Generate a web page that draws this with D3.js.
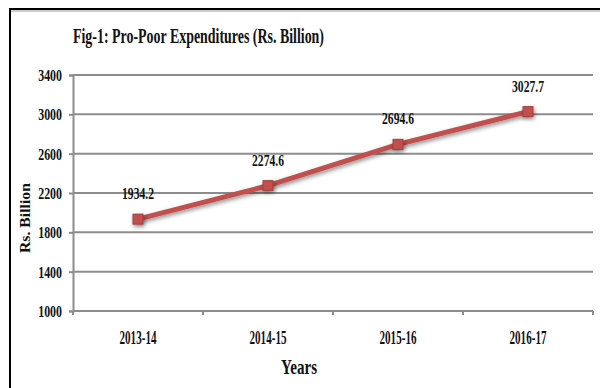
<!DOCTYPE html>
<html>
<head>
<meta charset="utf-8">
<script src="https://cdn.jsdelivr.net/npm/d3@7"></script>
<style>
  html, body { margin: 0; padding: 0; background: #fff; }
  svg { display: block; }
  text { font-family: "Liberation Serif", "Times New Roman", serif; font-weight: bold; fill: #111; }
</style>
</head>
<body>
<svg id="chart" width="600" height="388"></svg>
<script>
// Pro-poor expenditure by fiscal year (Rs. Billion)
const years = ["2013-14", "2014-15", "2015-16", "2016-17"];
const expenditure = [1934.2, 2274.6, 2694.6, 3027.7];
const yTicks = [1000, 1400, 1800, 2200, 2600, 3000, 3400];
const titleText = "Fig-1: Pro-Poor Expenditures (Rs. Billion)";
const xTitle = "Years";
const yTitle = "Rs. Billion";

const W = 600, H = 388;
const margin = { left: 73, right: 7, top: 75, bottom: 77 };
const svg = d3.select("#chart");

// squeeze text horizontally to a narrow, condensed look
function condense(sel, k) {
  sel.each(function () {
    const w = this.getComputedTextLength();
    d3.select(this).attr("textLength", w * k).attr("lengthAdjust", "spacingAndGlyphs");
  });
}
function fitTo(sel, width) {
  sel.attr("textLength", width).attr("lengthAdjust", "spacingAndGlyphs");
}

const defs = svg.append("defs");
const f = defs.append("filter").attr("id", "shadow")
  .attr("x", "-50%").attr("y", "-50%").attr("width", "200%").attr("height", "200%");
f.append("feDropShadow").attr("dx", 1).attr("dy", 2).attr("stdDeviation", 2)
  .attr("flood-color", "#000").attr("flood-opacity", 0.45);

// outer frame
svg.append("rect").attr("x", 10).attr("y", 9).attr("width", W + 20).attr("height", H + 20)
  .attr("fill", "none").attr("stroke", "#000").attr("stroke-width", 2);
svg.append("line").attr("x1", 11).attr("x2", W).attr("y1", 11).attr("y2", 11)
  .attr("stroke", "#999").attr("stroke-width", 1);

const x = d3.scaleBand().domain(years).range([margin.left, W - margin.right]);
const y = d3.scaleLinear().domain([1000, 3400]).range([H - margin.bottom, margin.top]);

const gridColor = "#8c8c8c";

// horizontal gridlines
svg.append("g").selectAll("line").data(yTicks.slice(1)).join("line")
  .attr("x1", margin.left).attr("x2", W - margin.right)
  .attr("y1", d => y(d)).attr("y2", d => y(d))
  .attr("stroke", gridColor).attr("stroke-width", 2);

// y axis
const yAxis = svg.append("g").attr("transform", `translate(${margin.left},0)`)
  .call(d3.axisLeft(y).tickValues(yTicks).tickSize(4).tickPadding(7).tickFormat(d3.format("d")));
yAxis.select(".domain").attr("stroke", gridColor).attr("stroke-width", 2);
yAxis.selectAll(".tick line").attr("stroke", gridColor).attr("stroke-width", 2);
yAxis.selectAll(".tick text").attr("font-size", 17).attr("font-family", null).attr("fill", "#111");
condense(yAxis.selectAll(".tick text"), 0.7);

// x axis with ticks at band boundaries
const xAxisY = H - margin.bottom;
svg.append("line").attr("x1", margin.left).attr("x2", W - margin.right)
  .attr("y1", xAxisY).attr("y2", xAxisY).attr("stroke", gridColor).attr("stroke-width", 2);
const bounds = years.map(d => x(d)).concat([x(years[years.length - 1]) + x.bandwidth()]);
svg.append("g").selectAll("line").data(bounds).join("line")
  .attr("x1", d => d).attr("x2", d => d).attr("y1", xAxisY).attr("y2", xAxisY + 4)
  .attr("stroke", gridColor).attr("stroke-width", 2);
const xl = svg.append("g").selectAll("text").data(years).join("text")
  .attr("x", d => x(d) + x.bandwidth() / 2).attr("y", xAxisY + 33)
  .attr("text-anchor", "middle").attr("font-size", 18).text(d => d);
fitTo(xl, 37);

// axis titles
const xt = svg.append("text").attr("x", 299).attr("y", 374).attr("text-anchor", "middle")
  .attr("font-size", 21).text(xTitle);
fitTo(xt, 36);
const yt = svg.append("text").attr("transform", "translate(30,218) rotate(-90)")
  .attr("text-anchor", "middle").attr("font-size", 14)
  .text(yTitle);
fitTo(yt, 70);

// chart title
const tt = svg.append("text").attr("x", 73).attr("y", 43).attr("font-size", 21).text(titleText);
fitTo(tt, 251);

// series line and markers
const cx = d => x(d) + x.bandwidth() / 2;
const data = years.map((d, i) => ({ year: d, value: expenditure[i] }));
const lineGen = d3.line().x(d => cx(d.year)).y(d => y(d.value));
svg.append("path").datum(data).attr("d", lineGen)
  .attr("fill", "none").attr("stroke", "#C0504D").attr("stroke-width", 5)
  .attr("filter", "url(#shadow)");
svg.append("g").selectAll("rect").data(data).join("rect")
  .attr("x", d => cx(d.year) - 5).attr("y", d => y(d.value) - 5)
  .attr("width", 10).attr("height", 10)
  .attr("fill", "#C0504D").attr("stroke", "#A33F3C").attr("stroke-width", 1)
  .attr("filter", "url(#shadow)");

// value labels
const vl = svg.append("g").selectAll("text").data(data).join("text")
  .attr("x", d => cx(d.year)).attr("y", d => y(d.value) - 20)
  .attr("text-anchor", "middle").attr("font-size", 17)
  .text(d => d.value.toFixed(1));
fitTo(vl, 32);
</script>
</body>
</html>
